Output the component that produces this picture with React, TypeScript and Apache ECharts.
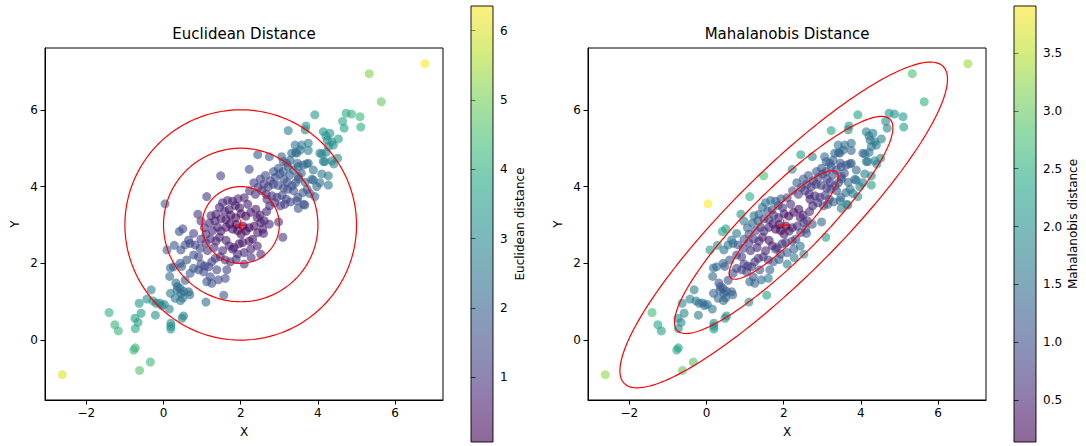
import React, { useEffect, useRef } from "react";
import * as echarts from "echarts";

// ---- data (x, y) ----
const points: [number, number][] = [
  [-2.62, -0.9], [-1.41, 0.72], [-1.26, 0.4], [-1.17, 0.24], [-0.77, -0.26], [-0.73, -0.2], [-0.62, -0.79], [-0.34, -0.57],
  [-0.74, 0.57], [-0.66, 0.46], [-0.73, 0.3], [-0.63, 0.96], [-0.58, 0.7], [-0.43, 1.07], [-0.32, 1.31], [-0.21, 0.65],
  [-0.19, 0.96], [-0.1, 0.97], [0.02, 0.93], [0.15, 0.81], [0.18, 1.22], [0.19, 0.36], [0.19, 0.29], [0.19, 0.44],
  [0.16, 1.66], [0.18, 1.88], [0.09, 2.35], [0.28, 2.47], [0.41, 2.83], [0.5, 2.9], [0.45, 2.35], [0.32, 1.49],
  [0.36, 1.4], [0.45, 1.22], [0.47, 1.92], [0.44, 1.03], [0.5, 1.1], [0.52, 1.27], [0.68, 1.18], [0.48, 0.57],
  [0.52, 0.63], [1.1, 0.99], [1.56, 1.17], [-0.27, 1.02], [-0.05, 0.9],
  [0.69, 2.52], [0.82, 2.48], [0.95, 2.39], [0.91, 2.17], [0.78, 2.22], [0.6, 2.09], [0.43, 2.0], [0.26, 1.91],
  [0.35, 1.3], [0.43, 1.35], [0.3, 1.09], [0.56, 1.56], [0.69, 1.74], [0.78, 1.87], [0.91, 1.83], [1.04, 1.78],
  [1.17, 1.91], [1.25, 2.04], [1.34, 2.13], [1.47, 2.17], [1.6, 2.09], [1.73, 2.04], [1.38, 1.83], [1.21, 1.65],
  [1.12, 1.52], [1.25, 1.48], [1.42, 1.57], [1.6, 1.61], [1.64, 1.83], [0.65, 1.26],
  [0.78, 2.78], [0.65, 2.61], [0.56, 2.48], [0.97, 2.63], [1.1, 2.53], [1.22, 2.64], [1.36, 2.58], [1.45, 2.68],
  [1.62, 2.6], [1.7, 2.46], [1.83, 2.41], [1.96, 2.51], [2.05, 2.54], [2.22, 2.58], [2.31, 2.63], [2.43, 2.45],
  [2.26, 2.37], [2.09, 2.28], [1.92, 2.24], [1.79, 2.37], [1.53, 2.33], [1.31, 2.41], [1.14, 2.33], [0.97, 1.98],
  [1.07, 1.93], [1.88, 2.1], [2.09, 1.98], [2.52, 2.24], [2.27, 2.15], [2.59, 2.78],
  [1.12, 3.74], [1.53, 3.58], [1.66, 3.64], [1.79, 3.62], [1.93, 3.68], [2.09, 3.71], [2.18, 3.54], [1.97, 3.45],
  [1.86, 3.51], [1.7, 3.4], [1.58, 3.36], [1.45, 3.46], [1.36, 3.28], [1.23, 3.24], [1.19, 3.05], [1.33, 3.11],
  [1.49, 3.16], [1.62, 3.14], [1.74, 3.25], [1.87, 3.19], [2.01, 3.29], [2.13, 3.23], [2.26, 3.33], [2.39, 3.41],
  [2.43, 3.19], [2.52, 3.06], [2.61, 3.11], [2.74, 3.02], [2.57, 2.89], [2.44, 2.8], [2.35, 2.97], [2.22, 2.93],
  [2.14, 2.84], [2.01, 2.76], [1.92, 2.85], [1.79, 2.89], [1.62, 2.94], [1.49, 2.84], [1.4, 2.94], [1.27, 2.85],
  [1.1, 2.76], [1.06, 2.93], [0.97, 3.1], [0.89, 3.28], [1.88, 3.01], [2.06, 2.97], [1.72, 3.03],
  [2.44, 4.83], [2.74, 4.78], [3.19, 4.61], [3.42, 4.89], [3.47, 4.61], [3.71, 4.59], [4.1, 4.85], [4.14, 4.65],
  [4.41, 4.59], [4.51, 4.74], [4.1, 4.33], [3.84, 4.19], [4.27, 4.04], [1.48, 4.28], [2.22, 4.45], [0.04, 3.55],
  [2.51, 4.2], [2.64, 4.29], [2.77, 4.15], [2.9, 4.24], [3.01, 4.33], [3.12, 4.19], [3.2, 4.11], [3.27, 4.3],
  [3.33, 4.02], [3.42, 4.1], [3.5, 4.2], [3.57, 4.35], [3.67, 4.11], [3.72, 3.93], [3.61, 3.84], [3.48, 3.72],
  [3.37, 3.89], [3.22, 3.93], [3.11, 3.96], [2.97, 4.03], [2.84, 4.06], [2.71, 3.99], [2.6, 4.06], [2.45, 3.98],
  [2.34, 4.1], [2.23, 3.89], [2.38, 3.8], [2.55, 3.89], [2.66, 3.8], [2.81, 3.76], [2.94, 3.72], [3.07, 3.77],
  [3.18, 3.67], [3.29, 3.6], [3.14, 3.54], [3.03, 3.5], [2.88, 3.58], [2.75, 3.5], [2.68, 3.67], [3.46, 3.63],
  [3.63, 3.54], [3.88, 4.17], [3.97, 4.0], [3.92, 3.74], [3.79, 3.82], [3.66, 3.52], [3.49, 3.43], [2.98, 3.08],
  [3.09, 2.68], [2.67, 3.35], [2.5, 3.26],
  [3.92, 5.87], [3.69, 5.58], [3.67, 5.48], [3.23, 5.46], [4.14, 5.43], [4.21, 5.32], [4.31, 5.39], [4.36, 5.17],
  [4.24, 5.21], [4.4, 5.08], [3.41, 5.08], [3.58, 5.08], [3.75, 5.13], [3.54, 4.95], [3.75, 4.94], [3.45, 4.87],
  [3.32, 4.87], [4.05, 4.87], [4.21, 4.89], [4.27, 5.04], [4.18, 4.65], [4.36, 4.67], [3.88, 4.43], [4.27, 4.28],
  [3.75, 4.61], [3.1, 4.65], [3.28, 4.69], [3.23, 4.52], [3.06, 4.78], [2.98, 4.48], [3.1, 4.39], [2.85, 4.39],
  [3.36, 4.43], [3.49, 4.52], [3.62, 4.56], [3.49, 4.26], [4.05, 4.1],
  [6.77, 7.2], [5.33, 6.94], [5.64, 6.21], [4.73, 5.91], [4.87, 5.89], [5.09, 5.82], [4.64, 5.7], [4.68, 5.52],
  [5.11, 5.55], [4.53, 5.24],
];

const CENTER: [number, number] = [2, 3];
const COV = [
  [2.0, 1.79],
  [1.79, 2.0],
];
const IDENTITY = [
  [1, 0],
  [0, 1],
];
const LEVELS = [1, 2, 3];
const X_RANGE = [-3.07, 7.24];
const Y_RANGE = [-1.56, 7.61];
const X_TICKS = [-2, 0, 2, 4, 6];
const Y_TICKS = [0, 2, 4, 6];
const EUC_TICKS = [1, 2, 3, 4, 5, 6];
const MAH_TICKS = [0.5, 1.0, 1.5, 2.0, 2.5, 3.0, 3.5];
const VIRIDIS = [
  "#440154", "#482475", "#414487", "#355f8d", "#2a788e", "#21918c",
  "#22a884", "#44bf70", "#7ad151", "#bddf26", "#fde725",
];

function invert(m: number[][]) {
  const det = m[0][0] * m[1][1] - m[0][1] * m[1][0];
  return [
    [m[1][1] / det, -m[0][1] / det],
    [-m[1][0] / det, m[0][0] / det],
  ];
}

function distance(p: [number, number], inv: number[][]) {
  const dx = p[0] - CENTER[0];
  const dy = p[1] - CENTER[1];
  return Math.sqrt(dx * (inv[0][0] * dx + inv[0][1] * dy) + dy * (inv[1][0] * dx + inv[1][1] * dy));
}

function outline(cov: number[][], r: number) {
  const l00 = Math.sqrt(cov[0][0]);
  const l10 = cov[1][0] / l00;
  const l11 = Math.sqrt(cov[1][1] - l10 * l10);
  const out: number[][] = [];
  const n = 240;
  for (let k = 0; k <= n; k++) {
    const t = (2 * Math.PI * k) / n;
    const u = Math.cos(t);
    const v = Math.sin(t);
    out.push([CENTER[0] + r * l00 * u, CENTER[1] + r * (l10 * u + l11 * v)]);
  }
  return out;
}

const FONT = "DejaVu Sans";
const minus = (v: number) => String(v).replace("-", "\u2212");

export default function App() {
  const ref = useRef<HTMLDivElement>(null);
  useEffect(() => {
    document.body.style.margin = "0";
    if (!ref.current) return;
    const chart = echarts.init(ref.current, undefined, { renderer: "svg" });

    const invCov = invert(COV);
    const euc = points.map((p) => distance(p, IDENTITY));
    const mah = points.map((p) => distance(p, invCov));
    const eMin = Math.min(...euc), eMax = Math.max(...euc);
    const mMin = Math.min(...mah), mMax = Math.max(...mah);

    const gridL = { left: 45, top: 48, width: 398, height: 352 };
    const gridR = { left: 588, top: 48, width: 398, height: 352 };

    const mainX = (gi: number) => ({
      type: "value", gridIndex: gi, min: X_RANGE[0], max: X_RANGE[1],
      name: "X", nameLocation: "middle", nameGap: 26,
      nameTextStyle: { fontFamily: FONT, fontSize: 12, color: "#000" },
      axisLine: { show: true, onZero: false, lineStyle: { color: "#000", width: 1 } },
      axisTick: { show: true, inside: false, length: 4.5, customValues: X_TICKS, lineStyle: { color: "#000" } },
      axisLabel: { customValues: X_TICKS, formatter: minus, fontFamily: FONT, fontSize: 12, color: "#000", margin: 7 },
      splitLine: { show: false },
    });
    const mainY = (gi: number) => ({
      type: "value", gridIndex: gi, min: Y_RANGE[0], max: Y_RANGE[1],
      name: "Y", nameLocation: "middle", nameGap: 24, nameRotate: 90,
      nameTextStyle: { fontFamily: FONT, fontSize: 12, color: "#000" },
      axisLine: { show: true, onZero: false, lineStyle: { color: "#000", width: 1 } },
      axisTick: { show: true, inside: false, length: 4.5, customValues: Y_TICKS, lineStyle: { color: "#000" } },
      axisLabel: { customValues: Y_TICKS, formatter: minus, fontFamily: FONT, fontSize: 12, color: "#000", margin: 7 },
      splitLine: { show: false },
    });
    const cbY = (gi: number, min: number, max: number, ticks: number[], name: string, gap: number, fmt: (v: number) => string) => ({
      type: "value", gridIndex: gi, min, max, position: "right",
      name, nameLocation: "middle", nameRotate: 90, nameGap: gap,
      nameTextStyle: { fontFamily: FONT, fontSize: 12, color: "#000" },
      axisLine: { show: false },
      axisTick: { show: true, inside: false, length: 4.5, customValues: ticks, lineStyle: { color: "#000" } },
      axisLabel: { customValues: ticks, formatter: fmt, fontFamily: FONT, fontSize: 12, color: "#000", margin: 7 },
      splitLine: { show: false },
    });
    const cbX = (gi: number) => ({ type: "value", gridIndex: gi, min: 0, max: 1, show: false });

    const stops = VIRIDIS.map((c, i) => ({ offset: i / (VIRIDIS.length - 1), color: c }));
    const colorbar = (idx: number, min: number, max: number) => ({
      type: "custom", xAxisIndex: idx, yAxisIndex: idx, silent: true,
      data: [[0, min]],
      renderItem: (_p: any, api: any) => {
        const a = api.coord([0, max]);
        const b = api.coord([1, min]);
        const shape = { x: a[0], y: a[1], width: b[0] - a[0], height: b[1] - a[1] };
        return {
          type: "group",
          children: [
            { type: "rect", shape, style: { fill: new echarts.graphic.LinearGradient(0, 1, 0, 0, stops), opacity: 0.6 } },
            { type: "rect", shape, style: { fill: "none", stroke: "#000", lineWidth: 0.9 } },
          ],
        };
      },
    });

    const ring = (gi: number, cov: number[][], r: number) => ({
      type: "line", xAxisIndex: gi, yAxisIndex: gi, data: outline(cov, r),
      showSymbol: false, symbol: "none", silent: true, z: 3,
      lineStyle: { color: "#ff0000", width: 1.2 },
    });
    const plus = (gi: number) => ({
      type: "scatter", xAxisIndex: gi, yAxisIndex: gi, data: [CENTER], z: 5, silent: true,
      symbol: "path://M-1,-0.13L1,-0.13L1,0.13L-1,0.13Z M-0.13,-1L0.13,-1L0.13,1L-0.13,1Z",
      symbolSize: 11, itemStyle: { color: "#ff0000" },
    });

    chart.setOption({
      animation: false,
      title: [
        { text: "Euclidean Distance", left: 244, top: 26, textAlign: "center", padding: 0,
          textStyle: { fontFamily: FONT, fontSize: 15, fontWeight: "normal", color: "#000" } },
        { text: "Mahalanobis Distance", left: 787, top: 26, textAlign: "center", padding: 0,
          textStyle: { fontFamily: FONT, fontSize: 15, fontWeight: "normal", color: "#000" } },
      ],
      grid: [
        { ...gridL, show: true, borderColor: "#000", borderWidth: 1, backgroundColor: "transparent" },
        { ...gridR, show: true, borderColor: "#000", borderWidth: 1, backgroundColor: "transparent" },
        { left: 471, top: 6, width: 22, height: 436 },
        { left: 1014, top: 6, width: 22, height: 436 },
      ],
      xAxis: [mainX(0), mainX(1), cbX(2), cbX(3)],
      yAxis: [
        mainY(0),
        mainY(1),
        cbY(2, eMin, eMax, EUC_TICKS, "Euclidean distance", 21, (v: number) => String(v)),
        cbY(3, mMin, mMax, MAH_TICKS, "Mahalanobis distance", 31, (v: number) => v.toFixed(1)),
      ],
      visualMap: [
        { show: false, type: "continuous", seriesIndex: 0, dimension: 2, min: eMin, max: eMax, inRange: { color: VIRIDIS } },
        { show: false, type: "continuous", seriesIndex: 1, dimension: 2, min: mMin, max: mMax, inRange: { color: VIRIDIS } },
      ],
      series: [
        { type: "scatter", xAxisIndex: 0, yAxisIndex: 0, symbolSize: 9, itemStyle: { opacity: 0.6 },
          data: points.map((p, i) => [p[0], p[1], euc[i]]) },
        { type: "scatter", xAxisIndex: 1, yAxisIndex: 1, symbolSize: 9, itemStyle: { opacity: 0.6 },
          data: points.map((p, i) => [p[0], p[1], mah[i]]) },
        ...LEVELS.map((r) => ring(0, IDENTITY, r)),
        ...LEVELS.map((r) => ring(1, COV, r)),
        plus(0),
        plus(1),
        colorbar(2, eMin, eMax),
        colorbar(3, mMin, mMax),
      ],
    });
    return () => chart.dispose();
  }, []);
  return <div ref={ref} style={{ position: "absolute", left: 0, top: 0, width: 1086, height: 446 }} />;
}
